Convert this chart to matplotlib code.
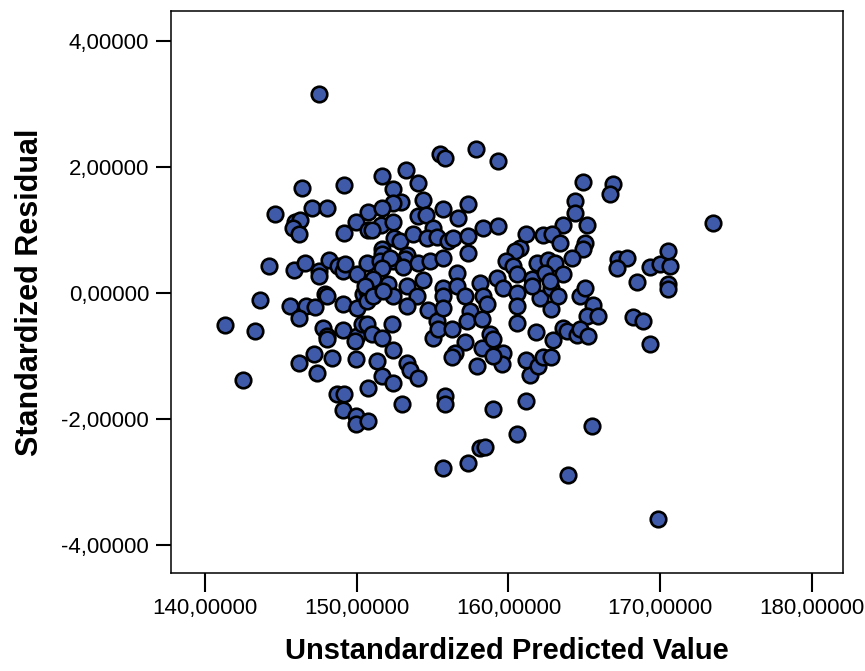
import matplotlib
matplotlib.use("Agg")
import matplotlib.pyplot as plt
from matplotlib.ticker import FuncFormatter

plt.rcParams['font.family'] = ['Liberation Sans', 'DejaVu Sans']

# unstandardized predicted value
pred = [
    147.52, 146.40, 149.17, 144.62, 147.06, 148.05, 145.94, 146.27, 145.81, 146.20,
    149.17, 149.97, 150.76, 150.76, 144.22, 145.87, 146.60, 147.52, 147.52, 148.18,
    148.78, 149.11, 149.24, 150.03, 150.69, 143.63, 145.61, 146.67, 147.26, 147.92,
    148.05, 149.11, 150.03, 150.43, 150.69, 146.20, 147.79, 148.05, 148.05, 150.69,
    149.11, 150.03, 149.90, 150.36, 150.69, 141.32, 143.30, 146.20, 147.19, 148.38,
    147.39, 149.97, 142.51, 148.71, 149.17, 149.11, 149.97, 149.97, 150.76, 150.76,
    155.45, 155.78, 157.89, 159.34, 151.68, 153.27, 154.06, 152.41, 154.39, 152.94,
    152.41, 151.68, 155.71, 157.36, 156.70, 154.06, 154.59, 155.05, 151.62, 151.02,
    152.41, 152.48, 152.87, 153.73, 154.65, 155.31, 156.04, 156.37, 157.36, 158.35,
    159.34, 157.36, 160.79, 160.46, 151.68, 151.68, 151.55, 153.33, 153.20, 152.41,
    152.21, 151.68, 153.07, 154.06, 154.85, 155.71, 159.87, 160.33, 160.59, 159.27,
    158.15, 156.63, 154.39, 153.33, 152.08, 151.09, 150.56, 155.71, 155.71, 156.63,
    157.16, 158.35, 151.09, 152.41, 153.99, 159.67, 160.59, 151.75, 153.33, 154.72,
    155.31, 155.71, 157.49, 157.29, 158.61, 158.28, 160.59, 160.59, 151.02, 151.68,
    152.34, 155.05, 155.38, 156.30, 157.16, 156.50, 156.30, 158.28, 158.81, 159.01,
    159.67, 159.60, 159.01, 157.95, 151.35, 152.41, 153.33, 153.53, 154.06, 151.68,
    152.41, 153.00, 155.78, 155.78, 159.01, 160.59, 158.15, 158.42, 157.36, 155.71,
    169.84, 163.96, 165.54, 161.19, 161.45, 161.19, 161.98, 162.31, 162.84, 162.97,
    161.85, 162.84, 162.11, 162.84, 163.30, 164.75, 165.08, 165.61, 165.21, 165.94,
    163.63, 163.89, 164.49, 164.69, 165.28, 168.25, 168.91, 169.31, 168.51, 170.50,
    170.50, 164.95, 166.93, 166.73, 164.42, 164.42, 163.63, 165.15, 161.19, 162.31,
    162.90, 163.37, 165.08, 164.95, 164.16, 173.47, 167.26, 167.79, 167.19, 169.31,
    170.03, 170.69, 170.50, 161.58, 161.58, 161.91, 162.64, 163.10, 163.63, 162.44,
    162.77,
]

# standardized residual
resid = [
    3.16, 1.67, 1.71, 1.25, 1.35, 1.35, 1.13, 1.16, 1.03, 0.94,
    0.95, 1.13, 1.29, 1.00, 0.43, 0.37, 0.48, 0.35, 0.27, 0.52,
    0.43, 0.35, 0.46, 0.30, 0.48, -0.11, -0.21, -0.21, -0.22, -0.02,
    -0.05, -0.17, -0.24, -0.02, 0.03, -0.40, -0.56, -0.68, -0.73, -0.13,
    -0.59, -0.68, -0.76, -0.49, -0.49, -0.51, -0.60, -1.11, -0.97, -1.03,
    -1.27, -1.05, -1.37, -1.60, -1.60, -1.86, -1.95, -2.08, -1.51, -2.03,
    2.21, 2.14, 2.29, 2.10, 1.86, 1.95, 1.75, 1.65, 1.48, 1.44,
    1.43, 1.35, 1.33, 1.41, 1.19, 1.22, 1.24, 1.03, 1.08, 1.00,
    1.13, 0.87, 0.83, 0.94, 0.87, 0.89, 0.83, 0.87, 0.90, 1.03,
    1.06, 0.63, 0.71, 0.67, 0.70, 0.62, 0.51, 0.60, 0.54, 0.51,
    0.56, 0.40, 0.41, 0.48, 0.51, 0.56, 0.51, 0.43, 0.30, 0.24,
    0.16, 0.32, 0.21, 0.11, 0.14, 0.22, 0.11, 0.08, -0.05, 0.11,
    -0.05, -0.05, -0.05, -0.05, -0.05, 0.08, 0.00, 0.03, -0.21, -0.27,
    -0.44, -0.24, -0.29, -0.44, -0.17, -0.41, -0.21, -0.48, -0.65, -0.71,
    -0.49, -0.71, -0.57, -0.57, -0.78, -0.95, -1.02, -0.87, -0.65, -0.73,
    -0.95, -1.13, -1.00, -1.16, -1.08, -0.90, -1.11, -1.22, -1.35, -1.32,
    -1.43, -1.76, -1.63, -1.76, -1.83, -2.24, -2.46, -2.44, -2.70, -2.78,
    -3.59, -2.89, -2.10, -1.71, -1.30, -1.06, -1.16, -1.02, -1.02, -0.75,
    -0.62, -0.25, -0.08, 0.08, -0.05, -0.05, 0.08, -0.19, -0.37, -0.37,
    -0.56, -0.60, -0.67, -0.57, -0.68, -0.38, -0.44, -0.81, 0.17, 0.14,
    0.06, 1.76, 1.73, 1.57, 1.46, 1.27, 1.08, 1.08, 0.94, 0.92,
    0.94, 0.79, 0.79, 0.70, 0.56, 1.11, 0.54, 0.56, 0.40, 0.41,
    0.46, 0.43, 0.67, 0.22, 0.11, 0.48, 0.52, 0.48, 0.30, 0.32,
    0.19,
]

xticks = [140, 150, 160, 170, 180]
yticks = [-4, -2, 0, 2, 4]

fig = plt.figure(figsize=(8.65, 6.71), dpi=100)
ax = fig.add_axes([0.198, 0.146, 0.777, 0.838])

ax.scatter(pred, resid, s=125, c='#3f5aa8', edgecolors='black', linewidths=1.9, zorder=3)

ax.set_xlim(137.75, 182.1)
ax.set_ylim(-4.44, 4.48)
ax.set_xticks(xticks)
ax.set_yticks(yticks)

comma = FuncFormatter(lambda v, p: ('%.5f' % v).replace('.', ','))
ax.xaxis.set_major_formatter(comma)
ax.yaxis.set_major_formatter(comma)

ax.tick_params(axis='y', length=11, width=1.5, labelsize=16, pad=5, direction='out')
ax.tick_params(axis='x', length=14, width=1.5, labelsize=16, pad=4, direction='out')
ax.tick_params(top=False, right=False)
for sp in ax.spines.values():
    sp.set_linewidth(1.1)

ax.set_xlabel('Unstandardized Predicted Value', fontsize=21, fontweight='bold', labelpad=13)
ax.set_ylabel('Standardized Residual', fontsize=22, fontweight='bold', labelpad=12)

fig.savefig('out.png', dpi=100)
